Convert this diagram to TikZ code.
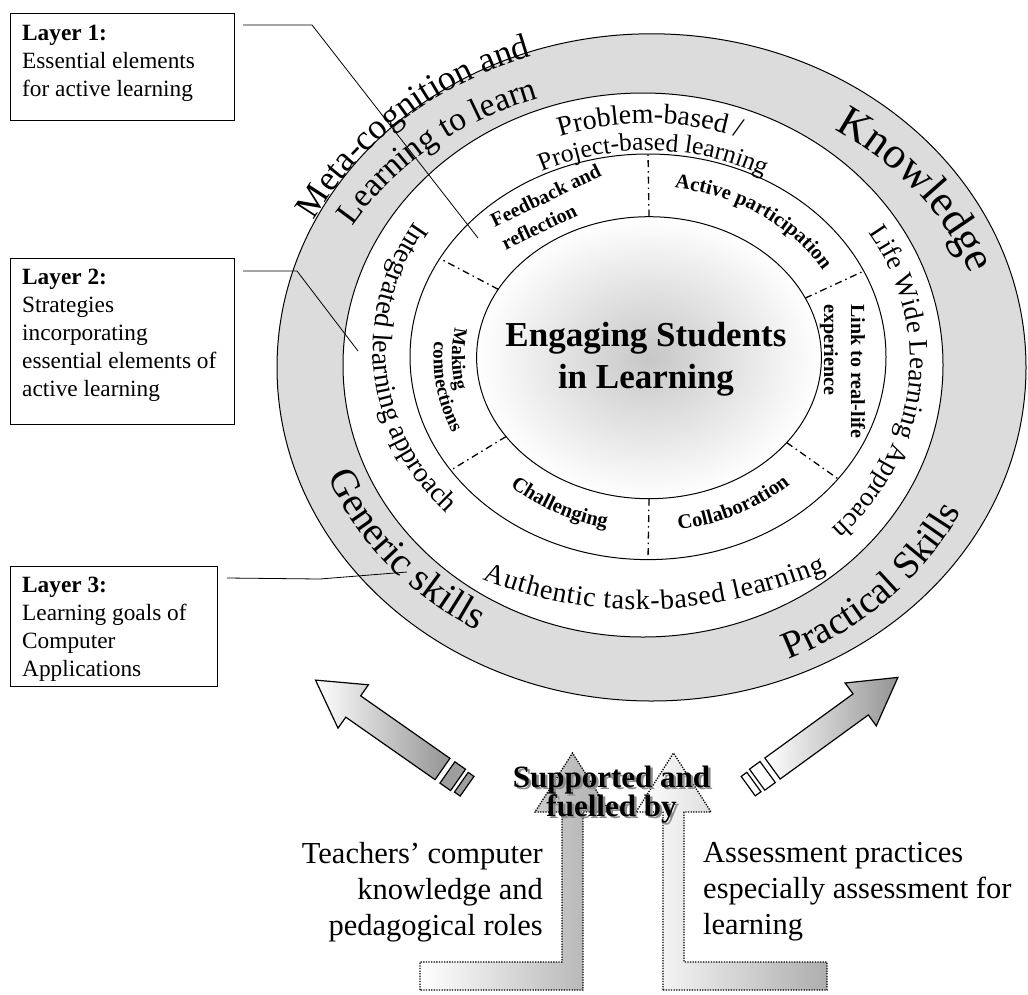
\documentclass[tikz,border=0pt]{standalone}
\usepackage{fontspec}
\setmainfont{Liberation Serif}
\usetikzlibrary{decorations.text}
\definecolor{bandgray}{RGB}{220,220,220}
\newcommand{\rtfKnow}{\fontsize{44}{44}\selectfont}
\newcommand{\rtfMeta}{\fontsize{35.5}{35.5}\selectfont}
\newcommand{\rtfLearn}{\fontsize{33.5}{33.5}\selectfont}
\newcommand{\rtfGen}{\fontsize{39.5}{39.5}\selectfont}
\newcommand{\rtfPrac}{\fontsize{38.5}{38.5}\selectfont}
\newcommand{\rtfProb}{\fontsize{28}{28}\selectfont}
\newcommand{\rtfProj}{\fontsize{25.5}{25.5}\selectfont}
\newcommand{\rtfInt}{\fontsize{28}{28}\selectfont}
\newcommand{\rtfLife}{\fontsize{27}{27}\selectfont}
\newcommand{\rtfAuth}{\fontsize{28}{28}\selectfont}
\newcommand{\rtfInner}{\bfseries\fontsize{20.5}{20.5}\selectfont}
\newcommand{\rtfMake}{\bfseries\fontsize{19}{19}\selectfont}
% #1 cx #2 cy #3 rx #4 ry #5 start #6 end #7 font #8 text
\newcommand{\ringtxt}[8]{%
  \path[decorate,decoration={text along path,text align=center,text={|#7|#8}}]
    ([shift={(#1,#2)}]#5:#3 and #4) arc[start angle=#5,end angle=#6,x radius=#3,y radius=#4];}
\tikzset{
  ring/.style={draw=black,line width=1},
  sepline/.style={line width=1.3,dash pattern=on 7pt off 4pt on 1.5pt off 4pt},
  layerbox/.style={draw=black,line width=0.9,inner sep=0,anchor=north west},
  layertext/.style={inner sep=0,anchor=north west,align=left,font=\fontsize{23.3}{28}\selectfont},
  leader/.style={draw=black,line width=0.8},
  blockarrow/.style={draw=black,line width=1.2,line join=miter},
  dotarrow/.style={draw=black,line width=1.3,dash pattern=on 1.3pt off 1.3pt,left color=white,right color=black!32},
  bottomtext/.style={inner sep=0,font=\fontsize{30.5}{36}\selectfont},
  supfont/.style={inner sep=0,anchor=north,align=center,font=\bfseries\fontsize{31}{29}\selectfont}
}
\begin{document}
\begin{tikzpicture}[x=1pt,y=1pt]
\useasboundingbox (0,0) rectangle (1028,-994);

% rings
\path[ring,fill=bandgray] (651.5,-367.4) ellipse[x radius=374.5,y radius=333.6];
\path[ring,fill=white] (643,-365) ellipse[x radius=300,y radius=272];
\path[ring] (648,-356.8) ellipse[x radius=238,y radius=202.8];
\path[ring,inner color=black!22,outer color=white] (649,-357.7) ellipse[x radius=172.4,y radius=141];

% separators
\foreach \t in {90,151,214,270,323,25}
  \draw[sepline] ([shift={(649,-357.7)}]\t:172.4 and 141) -- ([shift={(648,-356.8)}]\t:238 and 202.8);

% layer 3 ring texts
\ringtxt{651.5}{-367.4}{377.7}{327.7}{180}{85}{\rtfMeta}{Meta-cognition and}
\ringtxt{651.5}{-367.4}{344}{285}{180}{84}{\rtfLearn}{Learning to learn}
\ringtxt{651.5}{-367.4}{338}{282.5}{76.7}{-3.3}{\rtfKnow}{Knowledge}
\ringtxt{651.5}{-367.4}{347}{304}{179.3}{259.3}{\rtfGen}{Generic skills}
\ringtxt{651.5}{-367.4}{347.6}{318}{273.9}{353.9}{\rtfPrac}{Practical Skills}

% layer 2 ring texts
\ringtxt{648}{-356.8}{268.4}{233.3}{149.5}{29.5}{\rtfProb}{Problem-based /}
\ringtxt{648}{-356.8}{241.3}{206.2}{148.6}{28.6}{\rtfProj}{Project-based learning}
\ringtxt{648}{-349.7}{275}{241.3}{110}{260}{\rtfInt}{Integrated learning approach}
\ringtxt{648}{-360.4}{262}{236}{60}{-72}{\rtfLife}{Life Wide Learning Approach}
\path[decorate,decoration={text along path,text align={fit to path},text={|\rtfAuth|Authentic task-based learning}}]
  (483,-579) .. controls (591.3,-622.3) and (705.7,-619.7) .. (826,-571);

% layer 1 texts
\ringtxt{649}{-357.7}{202}{171}{110}{-1}{\rtfInner}{Active participation}
\ringtxt{649}{-357.7}{205.4}{174}{194}{288}{\rtfInner}{Challenging}
\ringtxt{649}{-357.7}{205.4}{174}{250}{345}{\rtfInner}{Collaboration}
\ringtxt{649}{-357.7}{197}{166}{140.5}{220.5}{\rtfMake}{Making}
\ringtxt{649}{-357.7}{215.4}{184}{149}{229}{\rtfMake}{connections}
\node[inner sep=0,align=left,rotate=25.7,font=\bfseries\fontsize{20}{25}\selectfont] (feedback) at (551,-207) {Feedback and\\reflection};
\node[inner sep=0,align=left,rotate=-90,anchor=north west,font=\bfseries\fontsize{20}{27}\selectfont] (link) at (865.5,-304) {Link to real-life\\experience};

% core
\node[inner sep=0,align=center,font=\bfseries\fontsize{35}{42.3}\selectfont] (core) at (646,-359) {Engaging Students\\in Learning};

% layer boxes
\node[layerbox,minimum width=224,minimum height=107] (L1) at (10,-13) {};
\node[layertext] (L1t) at (22,-25.2) {\textbf{Layer 1:}\\Essential elements\\for active learning};
\node[layerbox,minimum width=224,minimum height=166] (L2) at (10,-258) {};
\node[layertext] (L2t) at (22,-269.2) {\textbf{Layer 2:}\\Strategies\\incorporating\\essential elements of\\active learning};
\node[layerbox,minimum width=207,minimum height=120] (L3) at (10,-566) {};
\node[layertext] (L3t) at (22,-577.2) {\textbf{Layer 3:}\\Learning goals of\\Computer\\Applications};

% leaders
\coordinate (l1a) at (243,-25); \coordinate (l1b) at (312,-25); \coordinate (l1c) at (478,-238);
\coordinate (l2a) at (243,-271); \coordinate (l2b) at (297,-271); \coordinate (l2c) at (358,-351);
\coordinate (l3a) at (227,-578); \coordinate (l3b) at (320,-579); \coordinate (l3c) at (407,-572);
\draw[leader] (l1a) -- (l1b) -- (l1c);
\draw[leader] (l2a) -- (l2b) -- (l2c);
\draw[leader] (l3a) -- (l3b) -- (l3c);

% block arrows
\begin{scope}[shift={(442.5,-769)},rotate=145]
  \coordinate (la1) at (0,-13); \coordinate (la2) at (109,-13); \coordinate (la3) at (109,-26.5);
  \coordinate (la4) at (155,0); \coordinate (la5) at (109,26.5); \coordinate (la6) at (109,13);
  \coordinate (la7) at (0,13);
  \draw[blockarrow,fill=black!38] (-6,-13) rectangle (-19,13);
  \draw[blockarrow,fill=black!38] (-23,-12) rectangle (-30,12);
\end{scope}
\draw[blockarrow,left color=white,right color=black!42] (la1) -- (la2) -- (la3) -- (la4) -- (la5) -- (la6) -- (la7) -- cycle;
\begin{scope}[shift={(772.5,-768.5)},rotate=36]
  \coordinate (ra1) at (0,-13); \coordinate (ra2) at (109,-13); \coordinate (ra3) at (109,-26.5);
  \coordinate (ra4) at (155,0); \coordinate (ra5) at (109,26.5); \coordinate (ra6) at (109,13);
  \coordinate (ra7) at (0,13);
  \draw[blockarrow,fill=white] (-6,-13) rectangle (-19,13);
  \draw[blockarrow,fill=white] (-23,-12) rectangle (-30,12);
\end{scope}
\draw[blockarrow,left color=white,right color=black!42] (ra1) -- (ra2) -- (ra3) -- (ra4) -- (ra5) -- (ra6) -- (ra7) -- cycle;

% dotted bent arrows
\draw[dotarrow] (420,-990) -- (420,-962) -- (562,-962) -- (562,-812) -- (535,-812) -- (572.5,-753) -- (610,-812) -- (583,-812) -- (583,-990) -- cycle;
\draw[dotarrow] (663,-990) -- (663,-812) -- (636,-812) -- (673.5,-753) -- (711,-812) -- (684,-812) -- (684,-962) -- (827,-962) -- (827,-990) -- cycle;

% supported text with shadow
\node[supfont,text=black!45] (supshadow) at (614,-768.1) {Supported and\\fuelled by};
\node[supfont] (sup) at (611.5,-765.6) {Supported and\\fuelled by};

% bottom texts
\node[bottomtext,anchor=north east,align=right] (teach) at (543,-841.8) {Teachers’ computer\\knowledge and\\pedagogical roles};
\node[bottomtext,anchor=north west,align=left] (assess) at (703,-841.8) {Assessment practices\\especially assessment for\\learning};
\end{tikzpicture}
\end{document}
